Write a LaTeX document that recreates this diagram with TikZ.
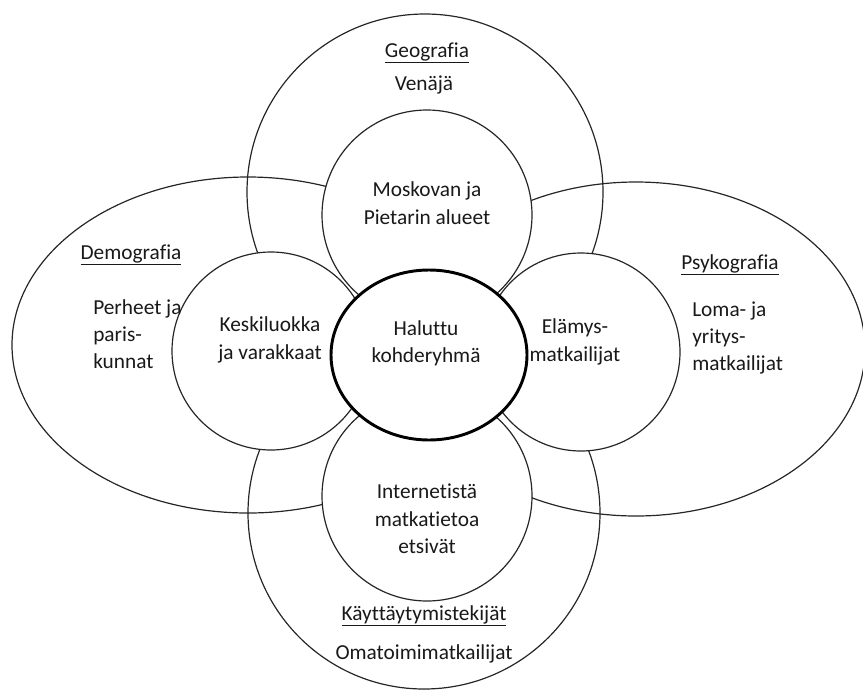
\documentclass[tikz,border=0pt]{standalone}
\usepackage{fontspec}
\setmainfont[Ligatures=NoCommon]{Carlito}

\begin{document}
\begin{tikzpicture}[x=0.75pt,y=0.75pt,yscale=-1,xscale=1,
  ring/.style={draw=black!85, line width=0.9pt},
  disc/.style={ring, fill=white},
  lbl/.style={inner sep=0pt, font=\fontsize{16}{20.5}\selectfont, text=black!90, align=center}]
\useasboundingbox (0,0) rectangle (863,693);
\clip (0,0) rectangle (863,693);

%Shape: Circle [Geografia]
\draw [ring] (425,192) circle [radius=178];
%Shape: Ellipse [Demografia]
\draw [ring] (248,345) ellipse [x radius=236, y radius=168];
%Shape: Ellipse [Psykografia]
\draw [ring] (636,349) ellipse [x radius=229, y radius=167];
%Shape: Circle [Kayttaytymistekijat]
\draw [ring] (424,513) circle [radius=176];

%Shape: Circle [Moskova]
\draw [disc] (427,215) circle [radius=105];
%Shape: Circle [Keskiluokka]
\draw [disc] (271,351) circle [radius=99];
%Shape: Circle [Elamys]
\draw [disc] (581,352) circle [radius=99];
%Shape: Circle [Internet]
\draw [disc] (427,496) circle [radius=105];
%Shape: Ellipse [Haluttu]
\draw [disc, draw=black, line width=2.2pt] (429,355) ellipse [x radius=98, y radius=85];

% Text Node
\draw (427,57) node [lbl, anchor=base] (geo) {\underline{Geografia}};
% Text Node
\draw (424,90) node [lbl, anchor=base] (venaja) {Venäjä};
% Text Node
\draw (427,203) node [lbl] (moskova) {Moskovan ja\\Pietarin alueet};
% Text Node
\draw (131,259) node [lbl, anchor=base] (demo) {\underline{Demografia}};
% Text Node
\draw (93,334) node [lbl, anchor=west, align=left] (perheet) {Perheet ja\\paris-\\kunnat};
% Text Node
\draw (270,340) node [lbl] (keski) {Keskiluokka\\ja varakkaat};
% Text Node
\draw (426,343) node [lbl] (haluttu) {Haluttu\\kohderyhmä};
% Text Node
\draw (575,342) node [lbl] (elamys) {Elämys-\\matkailijat};
% Text Node
\draw (730,269) node [lbl, anchor=base] (psyko) {\underline{Psykografia}};
% Text Node
\draw (692,338) node [lbl, anchor=west, align=left] (loma) {Loma- ja\\yritys-\\matkailijat};
% Text Node
\draw (427,519) node [lbl] (internet) {Internetistä\\matkatietoa\\etsivät};
% Text Node
\draw (424,620) node [lbl, anchor=base] (kaytto) {\underline{Käyttäytymistekijät}};
% Text Node
\draw (424,659) node [lbl, anchor=base] (omatoimi) {Omatoimimatkailijat};

\end{tikzpicture}
\end{document}
